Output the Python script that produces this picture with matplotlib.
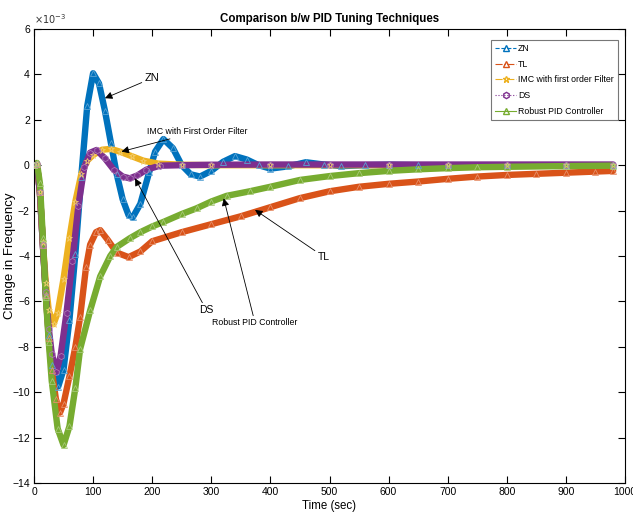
import matplotlib
matplotlib.use("Agg")
import matplotlib.pyplot as plt
from matplotlib.lines import Line2D
from matplotlib import font_manager
from matplotlib.colors import to_rgb

# ---------------- data (values in units of 1e-3) ----------------
t_zn = [0, 5, 10, 15, 20, 25, 30, 41, 50, 60, 70, 80, 90, 100, 110, 120, 130, 140, 150, 160,
        167, 180, 195, 205, 219, 235, 250, 265, 281, 300, 320, 340, 360, 380, 400, 430, 460,
        490, 520, 560, 600, 650, 700, 800, 900, 980]
y_zn = [0, 0.05, -1.2, -3.5, -5.7, -7.5, -8.8, -9.75, -9.0, -6.8, -3.9, -0.5, 2.6, 4.05, 3.6,
        2.4, 1.0, -0.4, -1.5, -2.2, -2.3, -1.7, -0.3, 0.6, 1.15, 0.75, 0.0, -0.4, -0.5, -0.25,
        0.15, 0.4, 0.25, 0.0, -0.15, -0.05, 0.13, 0.03, -0.04, 0.0, 0.02, 0.0, 0.0, 0.0, 0.0, 0.0]

t_tl = [0, 5, 10, 15, 20, 25, 30, 37, 44, 50, 60, 70, 78, 88, 95, 105, 112, 125, 140, 160,
        180, 200, 250, 300, 350, 400, 450, 500, 550, 600, 650, 700, 750, 800, 850, 900, 950, 980]
y_tl = [0, 0.05, -1.2, -3.5, -5.7, -7.6, -9.0, -10.3, -10.9, -10.5, -9.3, -8.0, -6.7, -4.5,
        -3.5, -2.95, -2.86, -3.3, -3.85, -4.05, -3.8, -3.35, -2.95, -2.6, -2.25, -1.85, -1.45,
        -1.15, -0.95, -0.82, -0.72, -0.6, -0.5, -0.43, -0.38, -0.33, -0.28, -0.25]

t_imc = [0, 5, 10, 15, 20, 25, 33, 40, 50, 60, 70, 80, 90, 100, 115, 130, 145, 165, 185, 210,
         250, 300, 400, 500, 600, 700, 800, 900, 980]
y_imc = [0, 0.05, -1.2, -3.4, -5.2, -6.4, -7.0, -6.5, -5.0, -3.2, -1.6, -0.4, 0.2, 0.45, 0.68,
         0.72, 0.6, 0.4, 0.2, 0.07, 0.02, 0.0, 0.0, 0.0, 0.0, 0.0, 0.0, 0.0, 0.0]

t_ds = [0, 5, 10, 15, 20, 25, 30, 38, 45, 55, 65, 75, 85, 95, 106, 120, 135, 150, 162, 175,
        190, 213, 250, 300, 400, 500, 600, 700, 800, 900, 980]
y_ds = [0, 0.05, -1.2, -3.5, -5.6, -7.2, -8.3, -9.1, -8.4, -6.5, -4.2, -1.8, -0.1, 0.55, 0.67,
        0.3, -0.2, -0.5, -0.58, -0.45, -0.2, -0.02, 0.0, 0.02, 0.03, 0.03, 0.03, 0.03, 0.03,
        0.03, 0.03]

t_rb = [0, 5, 10, 15, 20, 25, 30, 40, 50, 60, 70, 78, 95, 112, 129, 140, 162, 180, 200, 219,
        250, 275, 300, 326, 365, 400, 450, 500, 550, 600, 650, 700, 750, 800, 900, 980]
y_rb = [0, 0.1, -0.8, -3.2, -5.8, -7.8, -9.5, -11.6, -12.33, -11.5, -9.8, -8.1, -6.4, -4.9,
        -4.0, -3.6, -3.22, -2.95, -2.7, -2.5, -2.15, -1.9, -1.6, -1.35, -1.15, -0.95, -0.65,
        -0.48, -0.35, -0.25, -0.18, -0.13, -0.09, -0.07, -0.04, -0.02]

series_names = ["ZN", "TL", "IMC with first order Filter", "DS", "Robust PID Controller"]
x_ticks = [0, 100, 200, 300, 400, 500, 600, 700, 800, 900, 1000]
y_ticks = [-14, -12, -10, -8, -6, -4, -2, 0, 2, 4, 6]

# ---------------- style ----------------
names = {f.name for f in font_manager.fontManager.ttflist}
narrow = "Liberation Sans Narrow" if "Liberation Sans Narrow" in names else "Liberation Sans"
plt.rcParams["font.family"] = [narrow, "DejaVu Sans"]

colors = ["#0072BD", "#D95319", "#EDB120", "#7E2F8E", "#77AC30"]
markers = ["^", "^", "*", "h", "^"]
lstyles = ["--", "-.", "-.", ":", "-"]


def lighten(c, f=0.35):
    r, g, b = to_rgb(c)
    return (r + (1 - r) * f, g + (1 - g) * f, b + (1 - b) * f)


fig = plt.figure(figsize=(6.33, 5.22), dpi=100)
ax = fig.add_axes([34 / 633, 1 - 483 / 522, 591 / 633, 454 / 522])

data = [(t_zn, y_zn), (t_tl, y_tl), (t_imc, y_imc), (t_ds, y_ds), (t_rb, y_rb)]
for (t, y), c, m in zip(data, colors, markers):
    ax.plot(t, y, color=c, lw=4.6, solid_capstyle="round", solid_joinstyle="round", zorder=2)
    ax.plot(t, y, color=c, lw=0, marker=m, ms=4.5, mfc="none", mec=lighten(c), mew=0.6,
            zorder=3)

ax.set_xlim(0, 1000)
ax.set_ylim(-14, 6)
ax.set_xticks(x_ticks)
ax.set_yticks(y_ticks)
ax.tick_params(direction="in", top=True, right=True, length=5, width=0.8,
               labelsize=7.5, pad=3)
for s in ax.spines.values():
    s.set_linewidth(0.8)

ax.set_title("Comparison b/w PID Tuning Techniques", fontsize=8.3, fontweight="bold", pad=5)
ax.set_xlabel("Time (sec)", fontsize=8.3, labelpad=2)
ax.set_ylabel("Change in Frequency", fontsize=9.5, family=["Liberation Sans", "DejaVu Sans"])
ax.yaxis.set_label_coords(-18 / 591, 0.5)
fig.text(34 / 633, 1 - 19 / 522, r"$\times10^{-3}$", fontsize=7, ha="left", va="center",
         color="#333333")

# legend with MATLAB-like entries
handles = [Line2D([0], [0], color=c, ls=ls, marker=m, mfc="none", ms=4.5, lw=0.8)
           for c, ls, m in zip(colors, lstyles, markers)]
leg = ax.legend(handles, series_names, loc="upper right", bbox_to_anchor=(0.9887, 0.9758),
                fontsize=6.3, frameon=True, fancybox=False, edgecolor="#555555",
                handlelength=2.3, borderpad=0.5, labelspacing=0.75, handletextpad=0.3,
                borderaxespad=0)
leg.get_frame().set_linewidth(0.8)

# annotations
ap = dict(arrowstyle="-|>", color="black", lw=0.6, mutation_scale=11, shrinkA=0, shrinkB=0)
ax.annotate("ZN", xy=(120, 2.95), xytext=(187, 3.83), fontsize=8, va="center", ha="left",
            arrowprops=ap)
ax.annotate("IMC with First Order Filter", xy=(148, 0.6), xytext=(192, 1.48), fontsize=6.3,
            va="center", ha="left", arrowprops=ap)
ax.annotate("DS", xy=(171, -0.58), xytext=(292, -6.4), fontsize=7.5, va="center",
            ha="center", arrowprops=ap)
ax.annotate("Robust PID Controller", xy=(321, -1.46), xytext=(374, -6.95), fontsize=6.3,
            va="center", ha="center", arrowprops=ap)
ax.annotate("TL", xy=(374, -1.97), xytext=(480, -4.03), fontsize=7.5, va="center",
            ha="left", arrowprops=ap)

fig.savefig("out.png", dpi=100)
